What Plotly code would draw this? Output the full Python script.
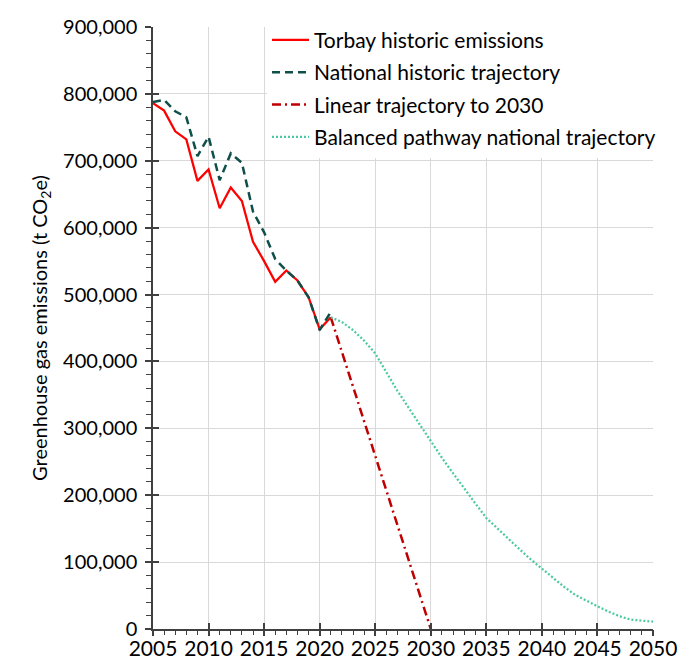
import plotly.graph_objects as go

hist_years = list(range(2005, 2022))
torbay = [786000, 775000, 744000, 732000, 670000, 687000, 629000, 660000, 640000,
          579000, 550000, 519000, 536000, 521000, 496000, 448000, 466000]
national = [788000, 791000, 774000, 765000, 707000, 736000, 671000, 711000, 697000,
            624000, 593000, 553000, 536000, 521000, 496000, 447000, 474000]
linear_years = [2021, 2030]
linear = [466000, 0]
bp_years = list(range(2021, 2051))
balanced = [466000, 459000, 447000, 431000, 412000, 383000, 356000, 331000, 306000, 280000,
            256000, 233000, 210000, 188000, 166000, 150000, 134000, 119000, 104000, 90000,
            77000, 63000, 51000, 42000, 34000, 26000, 19000, 14000, 12000, 11000]

FONT = "Lato"
fs = 21
fig = go.Figure()
fig.add_trace(go.Scatter(x=hist_years, y=torbay, mode="lines", name="Torbay historic emissions",
                         line=dict(color="#FF0000", width=2.25), legendgroup="a"))
fig.add_trace(go.Scatter(x=hist_years, y=national, mode="lines", name="National historic trajectory",
                         line=dict(color="#0F4F4A", width=2.5, dash="8px,5px"), legendgroup="b"))
fig.add_trace(go.Scatter(x=linear_years, y=linear, mode="lines", name="Linear trajectory to 2030",
                         line=dict(color="#C00000", width=2.5, dash="9px,4px,2px,4px"), legendgroup="c"))
fig.add_trace(go.Scatter(x=bp_years, y=balanced, mode="lines", name="Balanced pathway national trajectory",
                         line=dict(color="#4DC9A0", width=2.25, dash="2px,2px"), legendgroup="d"))
# invisible trace for overlay axes (outer/crossing ticks)
fig.add_trace(go.Scatter(x=[2005], y=[0], xaxis="x2", yaxis="y2", mode="markers",
                         marker=dict(opacity=0), showlegend=False, hoverinfo="skip"))

axcol = "#404040"
# page body has an 8px margin: the figure is sized/margined to compensate
fig.update_layout(
    width=685, height=659,
    margin=dict(l=145, r=40, t=12, b=38),
    paper_bgcolor="white", plot_bgcolor="white",
    font=dict(family=FONT, size=fs, color="#000000"),
    showlegend=True,
    legend=dict(x=0.228, y=1.012, xanchor="left", yanchor="top", bgcolor="white",
                font=dict(family=FONT, size=fs), tracegroupgap=2, traceorder="grouped",
                itemwidth=37),
    xaxis=dict(range=[2005, 2050], dtick=5, tick0=2005, showgrid=True, gridcolor="#D9D9D9",
               gridwidth=1.3, zeroline=False, showline=True, linecolor=axcol, linewidth=2,
               ticks="inside", ticklen=6, tickwidth=1.5, tickcolor=axcol, automargin=False,
               tickfont=dict(family=FONT, size=fs), ticklabelstandoff=0),
    yaxis=dict(range=[0, 900000], dtick=100000, tickformat=",", showgrid=True, gridcolor="#D9D9D9",
               gridwidth=1.3, zeroline=False, showline=True, linecolor=axcol, linewidth=1.5,
               ticks="outside", ticklen=6, tickwidth=1.5, tickcolor=axcol, automargin=False,
               minor=dict(dtick=20000, ticks="outside", ticklen=5, tickcolor=axcol, tickwidth=1.2, showgrid=False),
               tickfont=dict(family=FONT, size=20), ticklabelstandoff=4,
               title=dict(text="Greenhouse gas emissions (t CO<sub>2</sub>e)", standoff=10,
                          font=dict(family=FONT, size=20))),
    xaxis2=dict(range=[2005, 2050], overlaying="x", anchor="y2", dtick=5, tick0=2005,
                showgrid=False, zeroline=False, showticklabels=False, ticks="outside", ticklen=6,
                tickwidth=1.5, tickcolor=axcol, automargin=False,
                minor=dict(dtick=1, ticks="outside", ticklen=5, tickcolor=axcol, tickwidth=1.2, showgrid=False)),
    yaxis2=dict(range=[0, 900000], overlaying="y", anchor="x2", dtick=100000, showgrid=False,
                zeroline=False, showticklabels=False, ticks="inside", ticklen=6, tickwidth=1.5,
                tickcolor=axcol, automargin=False),
)
fig.write_html("out.html")
